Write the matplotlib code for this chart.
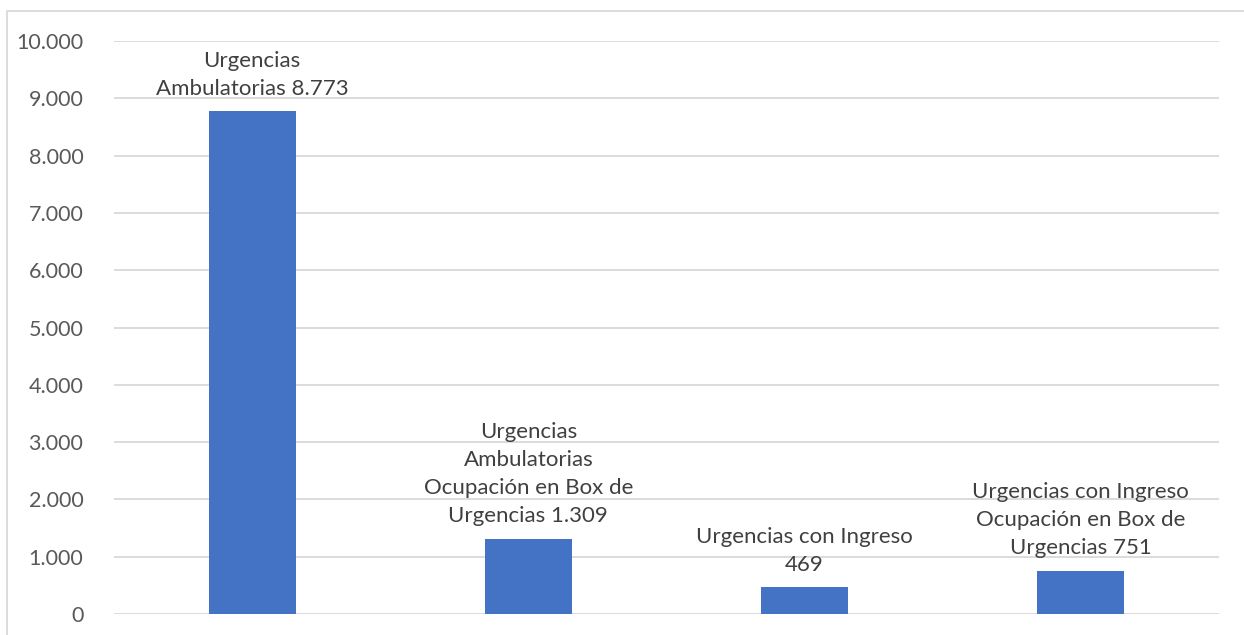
import matplotlib.pyplot as plt
from matplotlib.patches import Rectangle
from matplotlib.ticker import FuncFormatter

# data
categories = [
    "Urgencias\nAmbulatorias",
    "Urgencias\nAmbulatorias\nOcupación en Box de\nUrgencias",
    "Urgencias con Ingreso",
    "Urgencias con Ingreso\nOcupación en Box de\nUrgencias",
]
values = [8773, 1309, 469, 751]
yticks = list(range(0, 10001, 1000))

plt.rcParams['font.family'] = ['Lato', 'DejaVu Sans']


def miles(v):
    # thousands separator as "."
    return f"{int(v):,}".replace(",", ".")


fig = plt.figure(figsize=(12.44, 6.35), dpi=100)
ax = fig.add_axes([114 / 1244, 1 - 614 / 635, (1219 - 114) / 1244, (614 - 41) / 635])

x = list(range(len(values)))
ax.bar(x, values, width=0.315, color="#4472C4", zorder=3)

for xi, (cat, v) in enumerate(zip(categories, values)):
    # the last line of the category shares the value
    label = cat + "\n" + miles(v) if cat == "Urgencias con Ingreso" else cat + " " + miles(v)
    ax.annotate(label, (xi, v), xytext=(0, 9), textcoords="offset points",
                ha="center", va="bottom", fontsize=16, color="#404040",
                linespacing=1.5)

ax.set_xlim(-0.5, len(values) - 0.5)
ax.set_ylim(0, 10000)
ax.set_yticks(yticks)
ax.yaxis.set_major_formatter(FuncFormatter(lambda v, p: miles(v)))
ax.tick_params(axis="y", length=0, pad=22, labelsize=15.5, labelcolor="#595959")
ax.set_xticks([])
ax.grid(axis="y", color="#D9D9D9", linewidth=1.3, zorder=0)
for s in ax.spines.values():
    s.set_visible(False)

# outer chart frame
fig.add_artist(Rectangle((7 / 1244, -0.05), 1.1, (635 - 11) / 635 + 0.05,
                         transform=fig.transFigure, fill=False,
                         edgecolor="#D9D9D9", linewidth=1.3))

fig.savefig("out.png", dpi=100)
